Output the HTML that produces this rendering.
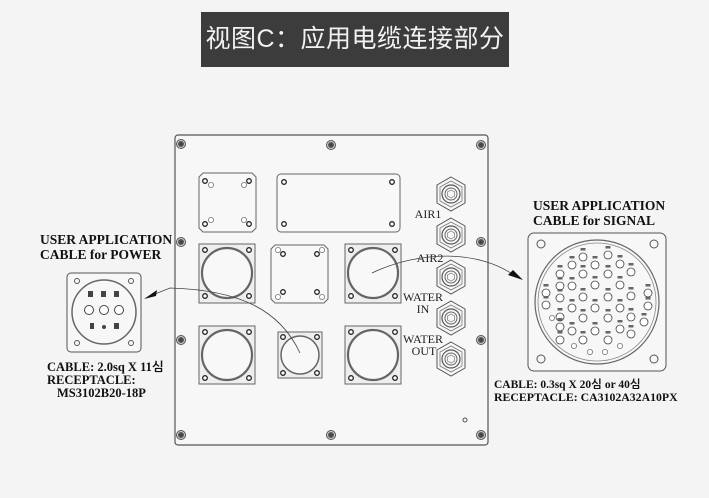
<!DOCTYPE html>
<html><head><meta charset="utf-8"><style>
html,body{margin:0;padding:0;background:#f4f4f4;}
body{width:709px;height:498px;position:relative;overflow:hidden;}
.title{position:absolute;left:201px;top:12px;width:308px;height:55px;background:#3c3c3c;color:#f2f2f2;font-family:"Liberation Sans","Noto Sans CJK SC",sans-serif;font-size:25px;line-height:55px;text-align:center;letter-spacing:0.5px;}
svg{position:absolute;left:0;top:0;}
</style></head><body>
<div class="title">视图C：应用电缆连接部分</div>
<svg width="709" height="498" viewBox="0 0 709 498" font-family="Liberation Serif, serif">
<defs>
<g id="scr"><circle r="5" fill="#555"/><circle r="3.5" fill="none" stroke="#ccc" stroke-width="1"/><circle r="1.5" fill="#444"/></g>
<g id="hx"><polygon points="0,-17 14,-9 14,9 0,17 -14,9 -14,-9" fill="#f7f7f7" stroke="#555" stroke-width="1"/><polygon points="0,-13 11,-7 11,7 0,13 -11,7 -11,-7" fill="none" stroke="#777" stroke-width="0.8"/><circle r="9" fill="none" stroke="#555" stroke-width="1.2"/><circle r="6" fill="none" stroke="#666" stroke-width="1"/><polygon points="0,-4 3.5,-2 3.5,2 0,4 -3.5,2 -3.5,-2" fill="none" stroke="#777" stroke-width="0.7"/></g>
<g id="h"><circle r="2.3" fill="#fff" stroke="#222" stroke-width="1.3"/></g>
<g id="ho"><circle r="2.6" fill="#fff" stroke="#777" stroke-width="0.8"/></g>
<g id="p"><circle r="4" fill="#fff" stroke="#444" stroke-width="0.8"/><rect x="-2.5" y="-9" width="5" height="2.5" fill="#666"/></g>
</defs>
<rect x="175" y="135" width="313" height="310" rx="3" fill="#f7f7f7" stroke="#555" stroke-width="1.2"/>
<use href="#scr" x="181" y="144"/><use href="#scr" x="331" y="145"/><use href="#scr" x="481" y="145"/>
<use href="#scr" x="181" y="242"/><use href="#scr" x="481" y="242"/>
<use href="#scr" x="181" y="340"/><use href="#scr" x="481" y="340"/>
<use href="#scr" x="181" y="435"/><use href="#scr" x="331" y="435"/><use href="#scr" x="481" y="435"/>
<circle cx="465" cy="420" r="2" fill="none" stroke="#555"/>
<path d="M203,173 H252 L256,177 V228 L252,232 H203 L199,228 V177 Z" fill="#f8f8f8" stroke="#666"/>
<use href="#h" x="205" y="181"/><use href="#h" x="249" y="181"/><use href="#h" x="205" y="224"/><use href="#h" x="249" y="224"/>
<use href="#ho" x="211" y="185"/><use href="#ho" x="244" y="185"/><use href="#ho" x="211" y="220"/><use href="#ho" x="244" y="220"/>
<rect x="277" y="174" width="123" height="58" rx="4" fill="#f8f8f8" stroke="#666"/>
<use href="#h" x="284" y="182"/><use href="#h" x="392" y="182"/><use href="#h" x="284" y="224"/><use href="#h" x="392" y="224"/>
<rect x="199" y="244" width="56" height="59" fill="#eee" stroke="#666"/>
<circle cx="227" cy="273" r="25" fill="#f8f8f8" stroke="#666" stroke-width="2.2"/>
<use href="#h" x="205" y="250"/><use href="#h" x="249" y="250"/><use href="#h" x="205" y="296"/><use href="#h" x="249" y="296"/>
<path d="M275,245 H324 L328,249 V299 L324,303 H275 L271,299 V249 Z" fill="#f8f8f8" stroke="#666"/>
<use href="#h" x="283" y="254"/><use href="#h" x="317" y="254"/><use href="#h" x="283" y="292"/><use href="#h" x="317" y="292"/>
<use href="#ho" x="278" y="250"/><use href="#ho" x="322" y="250"/><use href="#ho" x="278" y="297"/><use href="#ho" x="322" y="297"/>
<rect x="345" y="244" width="56" height="59" fill="#eee" stroke="#666"/>
<circle cx="373" cy="273" r="25" fill="#f8f8f8" stroke="#666" stroke-width="2.2"/>
<use href="#h" x="351" y="250"/><use href="#h" x="395" y="250"/><use href="#h" x="351" y="296"/><use href="#h" x="395" y="296"/>
<rect x="199" y="326" width="56" height="58" fill="#eee" stroke="#666"/>
<circle cx="227" cy="355" r="25" fill="#f8f8f8" stroke="#666" stroke-width="2.2"/>
<use href="#h" x="205" y="332"/><use href="#h" x="249" y="332"/><use href="#h" x="205" y="378"/><use href="#h" x="249" y="378"/>
<rect x="278" y="332" width="44" height="46" fill="#eee" stroke="#666"/>
<circle cx="300" cy="355" r="19" fill="#f8f8f8" stroke="#666" stroke-width="1.5"/>
<use href="#h" x="283" y="337"/><use href="#h" x="317" y="337"/><use href="#h" x="283" y="373"/><use href="#h" x="317" y="373"/>
<rect x="345" y="326" width="56" height="58" fill="#eee" stroke="#666"/>
<circle cx="373" cy="355" r="25" fill="#f8f8f8" stroke="#666" stroke-width="2.2"/>
<use href="#h" x="351" y="332"/><use href="#h" x="395" y="332"/><use href="#h" x="351" y="378"/><use href="#h" x="395" y="378"/>
<use href="#hx" x="451" y="194"/><use href="#hx" x="451" y="235"/><use href="#hx" x="451" y="277"/><use href="#hx" x="451" y="318"/><use href="#hx" x="451" y="359"/>
<g font-size="12" fill="#222" text-anchor="middle">
<text x="428" y="218">AIR1</text><text x="430" y="262">AIR2</text>
<text x="423" y="301">WATER</text><text x="423" y="313">IN</text>
<text x="423" y="343">WATER</text><text x="424" y="355">OUT</text>
</g>
<path d="M300,353 C280,310 240,290 170,288 L150,296" fill="none" stroke="#444" stroke-width="0.8"/>
<polygon points="144,299 157,290 156,296" fill="#111"/>
<path d="M372,273 C420,250 480,250 515,276" fill="none" stroke="#444" stroke-width="0.8"/>
<polygon points="523,280 508,275 513,270" fill="#111"/>
<g font-family="Liberation Serif, serif" font-weight="bold" fill="#111">
<text x="40" y="244" font-size="13.5">USER APPLICATION</text>
<text x="40" y="259" font-size="13.5">CABLE for POWER</text>
<text x="47" y="371" font-size="12.5">CABLE: 2.0sq X 11<tspan font-family="NanumGothic,sans-serif">심</tspan></text>
<text x="47" y="384" font-size="12.5">RECEPTACLE:</text>
<text x="57" y="397" font-size="12.5">MS3102B20-18P</text>
</g>
<rect x="67" y="273" width="74" height="79" rx="4" fill="#f7f7f7" stroke="#555"/>
<circle cx="104" cy="312" r="32" fill="none" stroke="#666" stroke-width="1.5"/>
<circle cx="77" cy="281" r="2.5" fill="none" stroke="#555"/><circle cx="131" cy="281" r="2.5" fill="none" stroke="#555"/>
<circle cx="77" cy="343" r="2.5" fill="none" stroke="#555"/><circle cx="131" cy="343" r="2.5" fill="none" stroke="#555"/>
<g fill="#444"><rect x="88" y="291" width="5" height="6"/><rect x="101" y="291" width="5" height="6"/><rect x="114" y="291" width="5" height="6"/>
<rect x="90" y="323" width="4" height="6"/><circle cx="104" cy="327" r="2"/><rect x="114" y="323" width="5" height="6"/></g>
<circle cx="89" cy="310" r="4.5" fill="#fff" stroke="#444"/><circle cx="104" cy="310" r="4.5" fill="#fff" stroke="#444"/><circle cx="119" cy="310" r="4.5" fill="#fff" stroke="#444"/>
<g font-family="Liberation Serif, serif" font-weight="bold" fill="#111">
<text x="533" y="210" font-size="13.5">USER APPLICATION</text>
<text x="533" y="225" font-size="13.5">CABLE for SIGNAL</text>
<text x="494" y="388" font-size="11.5">CABLE: 0.3sq X 20<tspan font-family="NanumGothic,sans-serif">심</tspan> or 40<tspan font-family="NanumGothic,sans-serif">심</tspan></text>
<text x="494" y="401" font-size="11.8">RECEPTACLE: CA3102A32A10PX</text>
</g>
<rect x="528" y="233" width="138" height="138" rx="6" fill="#f7f7f7" stroke="#555"/>
<circle cx="597" cy="302" r="62" fill="none" stroke="#666" stroke-width="1.2"/>
<circle cx="597" cy="302" r="59" fill="none" stroke="#888" stroke-width="0.8"/>
<circle cx="541" cy="244" r="4" fill="none" stroke="#555"/><circle cx="654" cy="244" r="4" fill="none" stroke="#555"/>
<circle cx="541" cy="359" r="4" fill="none" stroke="#555"/><circle cx="654" cy="359" r="4" fill="none" stroke="#555"/>
<use href="#p" x="583" y="257"/><use href="#p" x="608" y="255"/>
<use href="#p" x="572" y="265"/><use href="#p" x="595" y="265"/><use href="#p" x="620" y="264"/>
<use href="#p" x="560" y="274"/><use href="#p" x="583" y="274"/><use href="#p" x="608" y="274"/><use href="#p" x="631" y="272"/>
<use href="#p" x="560" y="286"/><use href="#p" x="572" y="286"/><use href="#p" x="595" y="285"/><use href="#p" x="620" y="285"/>
<use href="#p" x="546" y="293"/><use href="#p" x="560" y="298"/><use href="#p" x="583" y="297"/><use href="#p" x="608" y="297"/><use href="#p" x="631" y="296"/><use href="#p" x="648" y="293"/>
<use href="#p" x="546" y="305"/><use href="#p" x="572" y="308"/><use href="#p" x="595" y="308"/><use href="#p" x="620" y="308"/><use href="#p" x="648" y="306"/>
<use href="#p" x="560" y="317"/><use href="#p" x="583" y="318"/><use href="#p" x="608" y="318"/><use href="#p" x="631" y="317"/>
<use href="#p" x="560" y="327"/><use href="#p" x="572" y="331"/><use href="#p" x="595" y="331"/><use href="#p" x="620" y="329"/><use href="#p" x="644" y="322"/>
<use href="#p" x="583" y="340"/><use href="#p" x="608" y="340"/><use href="#p" x="631" y="334"/><use href="#p" x="560" y="340"/>
<use href="#ho" x="574" y="346"/><use href="#ho" x="590" y="352"/><use href="#ho" x="605" y="352"/><use href="#ho" x="620" y="346"/><use href="#ho" x="552" y="318"/>
</svg>
</body></html>
